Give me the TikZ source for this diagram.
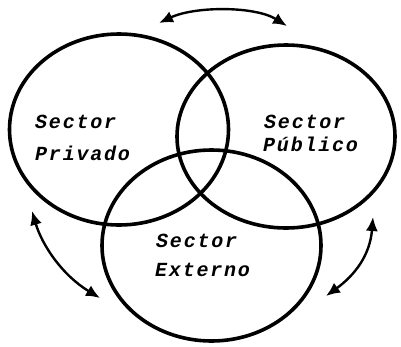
\documentclass[tikz,border=0pt]{standalone}
\usepackage{fontspec}
\newfontfamily\typefont[LetterSpace=9]{Liberation Mono}
\usetikzlibrary{shapes.geometric,arrows.meta}
\begin{document}
\begin{tikzpicture}[x=1pt,y=-1pt,
  sector/.style={draw=black, ellipse, line width=3.6pt, inner sep=0pt},
  label/.style={anchor=west, inner sep=0pt, font=\typefont\bfseries\itshape\fontsize{20}{22}\selectfont},
  link/.style={line width=2.4pt, {Latex[length=14pt,width=12pt]}-{Latex[length=14pt,width=12pt]}}]
\useasboundingbox (0,0) rectangle (401,346);
\node[sector, minimum width=219pt, minimum height=191pt] (priv) at (119,129.5) {};
\node[sector, minimum width=218pt, minimum height=183pt] (pub) at (286,136.5) {};
\node[sector, minimum width=219pt, minimum height=191pt] (ext) at (211.5,245.5) {};
\node[label] (t1) at (35,122) {Sector};
\node[label] (t2) at (35,153) {Privado};
\node[label] (t3) at (264,122) {Sector};
\node[label] (t4) at (263,144) {Público};
\node[label] (t5) at (156,241) {Sector};
\node[label] (t6) at (155,270) {Externo};
\coordinate (a1) at (159,23);
\coordinate (a2) at (287,26);
\coordinate (b1) at (32,211);
\coordinate (b2) at (100,298);
\coordinate (c1) at (373,217);
\coordinate (c2) at (326,296);
\draw[link] (a1) .. controls (195,6) and (255,6) .. (a2);
\draw[link] (b1) .. controls (42,245) and (62,275) .. (b2);
\draw[link] (c1) .. controls (370,255) and (355,275) .. (c2);
\end{tikzpicture}
\end{document}
